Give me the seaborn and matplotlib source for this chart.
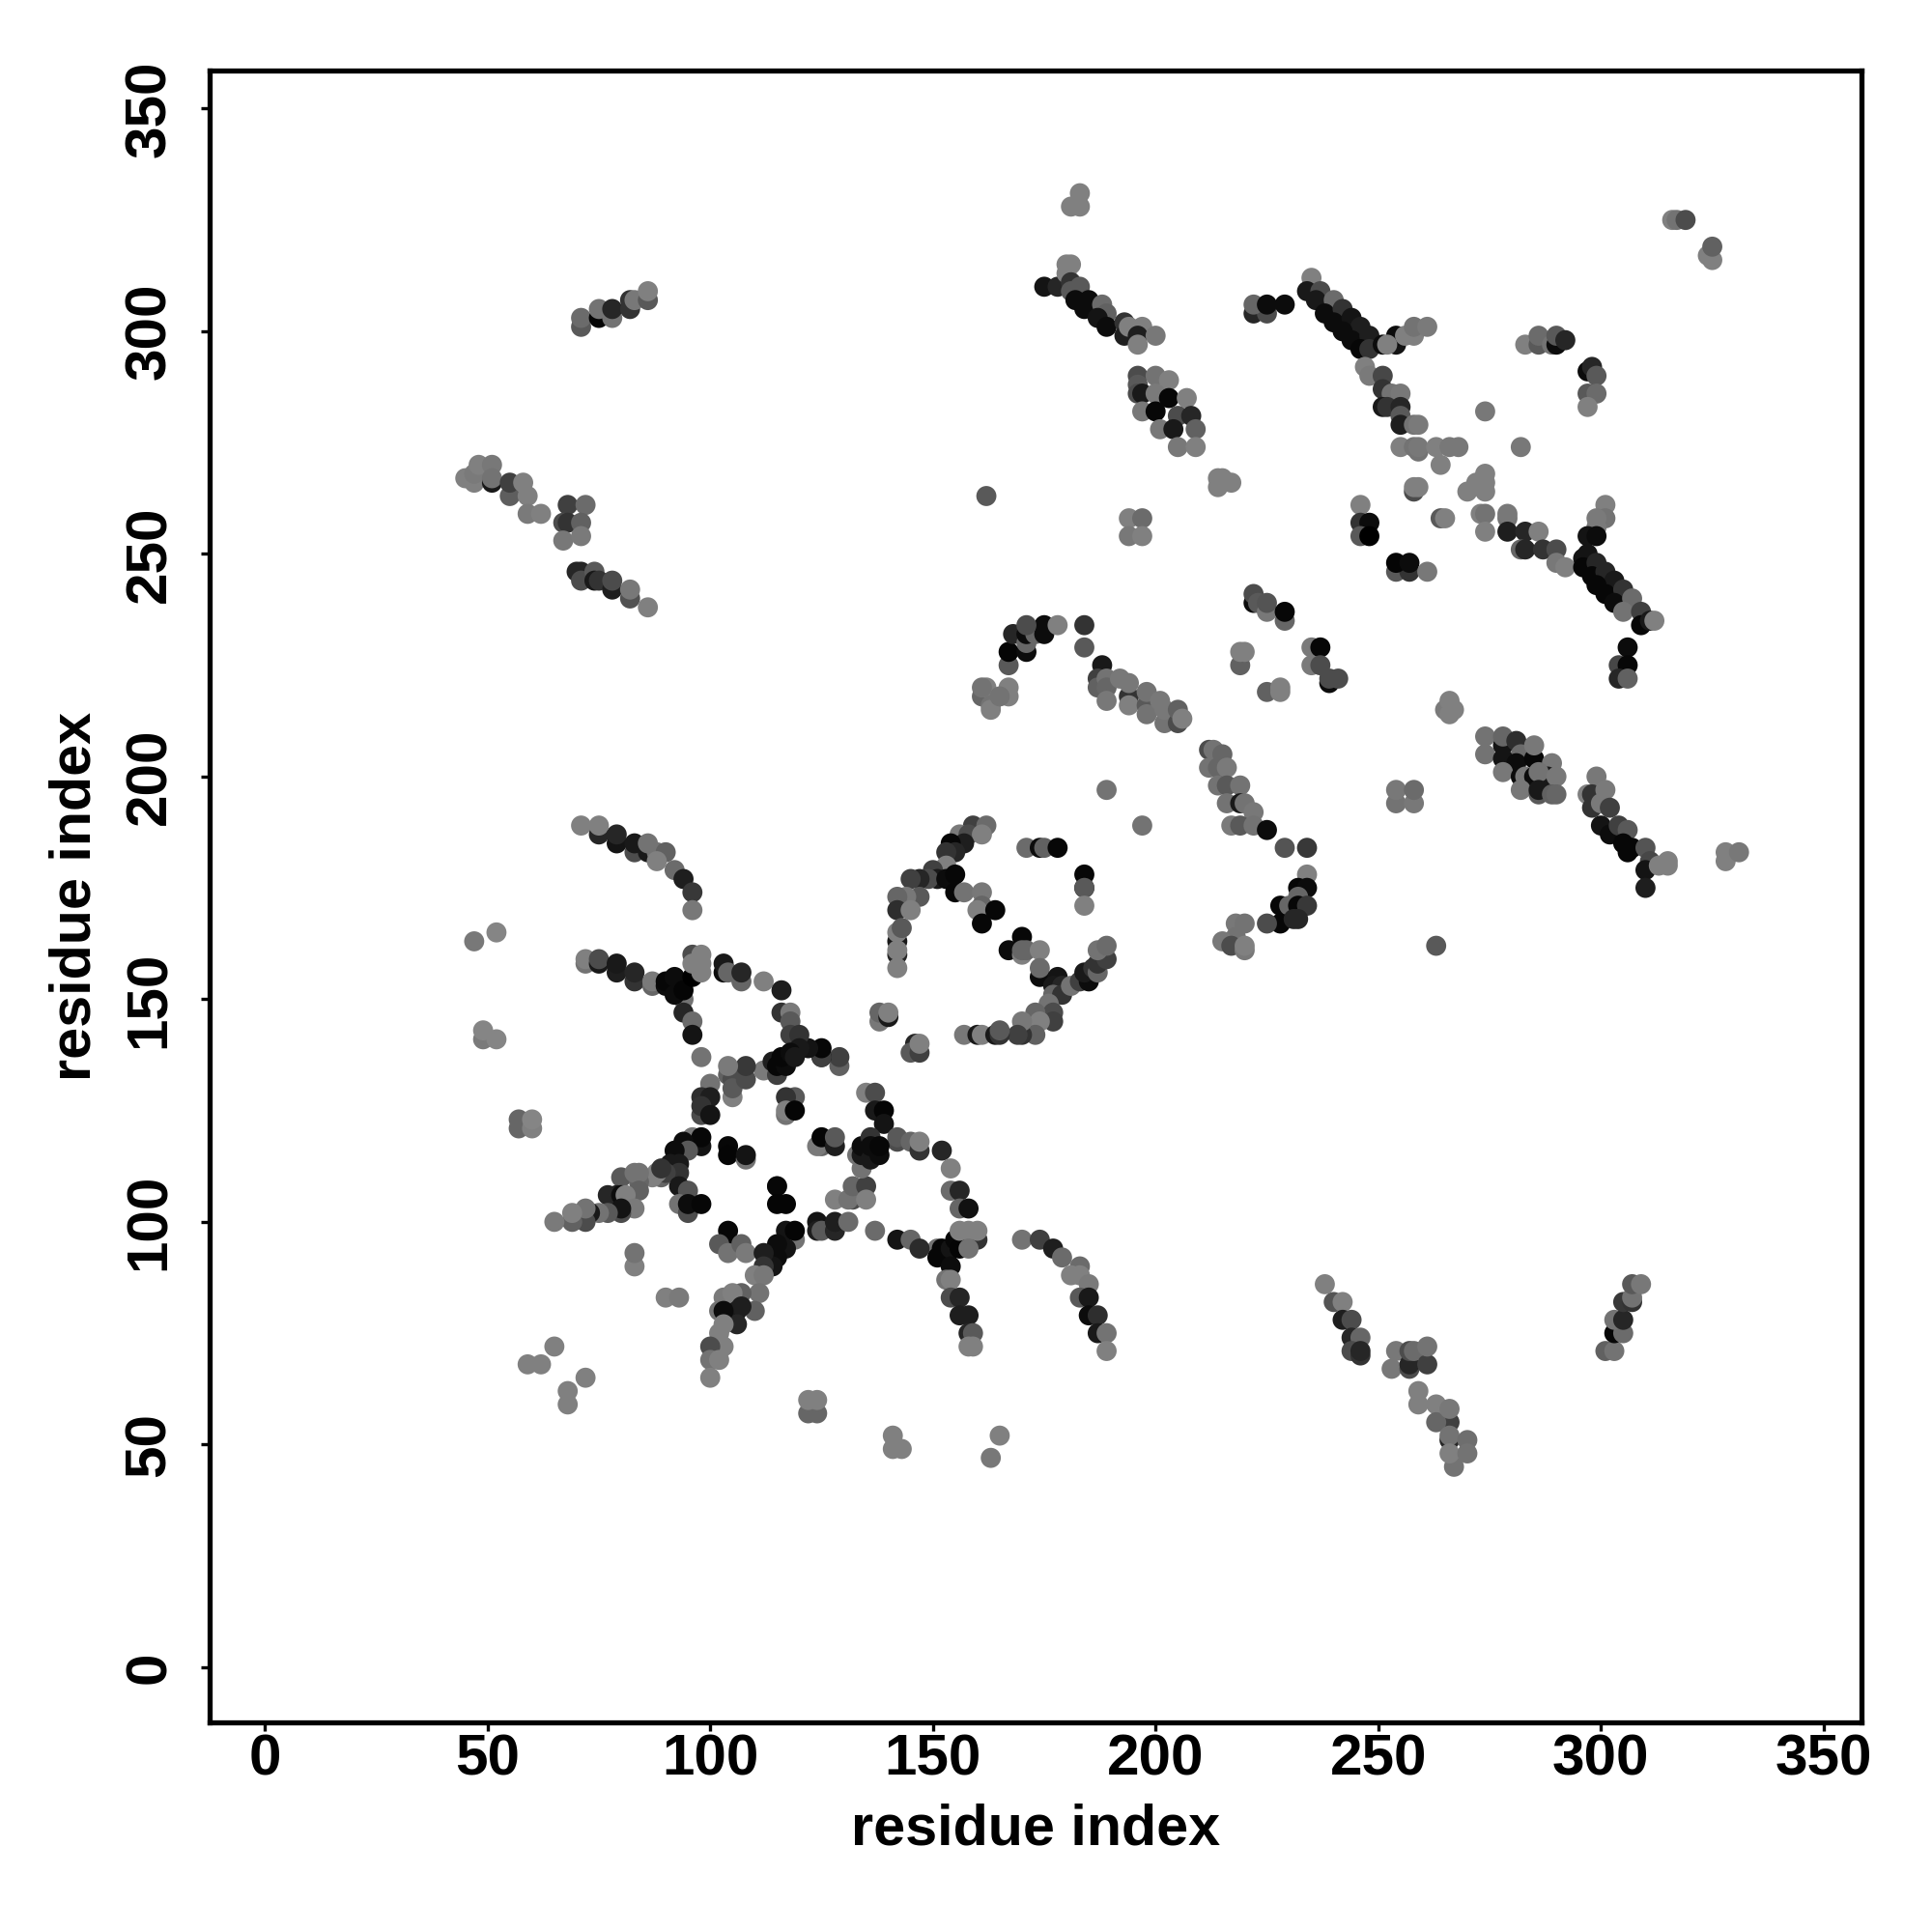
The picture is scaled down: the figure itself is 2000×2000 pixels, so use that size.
import numpy as np
import pandas as pd
import seaborn as sns
from matplotlib import pyplot as plt

# contact points, group by group (x, y, grey level)
arc1_x = [71, 75, 75, 79, 79, 83, 83, 86, 86, 88, 90, 88, 92, 94, 96, 96]
arc1_y = [189, 187, 189, 185, 187, 183, 185, 183, 185, 183, 183, 181, 179, 177, 174, 170]
arc1_g = [.5, .15, .5, .08, .15, .3, .1, .1, .45, .45, .38, .5, .42, .12, .22, .47]

arc2_x = [72, 72, 75, 75, 79, 79, 83, 83, 87, 87, 94, 90, 90, 92, 92, 94, 96, 96, 98, 98, 98, 96, 94, 96, 96, 98]
arc2_y = [158, 159, 158, 159, 156, 158, 154, 156, 153, 154, 150, 153, 154, 151, 155, 152, 155, 160, 156, 158, 160, 158, 147, 145, 142, 137]
arc2_g = [.45, .5, .1, .3, .12, .1, .2, .15, .4, .48, .45, .05, .03, .05, .05, .02, .0, .3, .5, .5, .5, .5, .15, .42, .08, .45]

arc3_x = [103, 103, 104, 107, 107, 112, 116, 116, 118, 118, 129, 129, 125, 125, 125, 122, 118, 120, 120, 112, 115, 114, 115, 117, 116, 118, 119]
arc3_y = [156, 158, 156, 154, 156, 154, 152, 147, 147, 145, 135, 137, 137, 137, 139, 139, 142, 142, 139, 134, 133, 136, 135, 135, 137, 138, 137]
arc3_g = [.05, .1, .4, .4, .15, .5, .12, .2, .48, .35, .38, .25, .05, .25, .03, .08, .25, .2, .1, .48, .25, .12, .03, .05, .03, .05, .1]

block1_x = [105, 104, 105, 105, 108, 108, 104, 100, 98, 100, 98, 98, 100]
block1_y = [128, 133, 132, 130, 132, 135, 135, 131, 128, 128, 124, 126, 124]
block1_g = [.5, .38, .3, .35, .3, .22, .48, .45, .18, .12, .3, .2, .08]

lone1_x = [47, 52, 49, 49, 52, 57, 57, 60, 60, 59, 62, 65, 68, 68, 72, 83, 83, 90, 93]
lone1_y = [163, 165, 141, 143, 141, 121, 123, 121, 123, 68, 68, 72, 59, 62, 65, 90, 93, 83, 83]
lone1_g = [.47, .52, .48, .52, .52, .4, .4, .5, .52, .5, .5, .5, .5, .5, .5, .5, .45, .5, .48]

mid1_x = [117, 119, 117, 117, 119, 135, 137, 137, 139, 139]
mid1_y = [124, 128, 128, 125, 125, 129, 129, 125, 125, 122]
mid1_g = [.45, .35, .2, .5, .02, .5, .3, .1, .02, .08]

arc4_x = [142, 142, 145, 147, 147, 152, 154, 154, 156, 156, 158]
arc4_y = [118, 119, 118, 116, 118, 116, 112, 107, 107, 103, 103]
arc4_g = [.3, .35, .4, .2, .5, .15, .5, .42, .15, .4, .07]

knot1_x = [151, 152, 151, 153, 154, 154, 155, 156, 160, 156, 158, 160, 158, 153, 154, 154, 156, 156, 158, 158, 159, 158, 159]
knot1_y = [94, 94, 92, 92, 94, 90, 96, 94, 96, 98, 98, 98, 94, 87, 87, 83, 83, 79, 79, 75, 75, 72, 72]
knot1_g = [.45, .03, .03, .03, .08, .05, .03, .02, .2, .5, .5, .5, .45, .45, .5, .3, .15, .12, .12, .15, .35, .5, .5]

arc5_x = [142, 145, 147, 137, 170, 174, 177, 179, 183, 181, 183, 185, 183, 185, 185, 187, 187, 189, 189]
arc5_y = [96, 96, 94, 98, 96, 96, 94, 92, 90, 88, 88, 86, 83, 83, 79, 79, 75, 75, 71]
arc5_g = [.08, .4, .17, .42, .45, .25, .12, .42, .42, .5, .5, .48, .35, .1, .05, .18, .1, .45, .5]

mid2_x = [124, 124, 125, 128, 128, 131, 128, 132, 131, 132, 135, 135, 134, 125, 124, 125, 128, 128]
mid2_y = [100, 98, 98, 98, 100, 100, 105, 105, 105, 108, 108, 105, 112, 117, 117, 119, 117, 119]
mid2_g = [.08, .12, .35, .15, .12, .42, .5, .3, .45, .4, .25, .5, .45, .4, .48, .02, .12, .35]

diag1_x = [133, 134, 134, 136, 136, 136, 138, 138]
diag1_y = [115, 115, 117, 119, 114, 117, 115, 117]
diag1_g = [.45, .1, .05, .2, .1, .05, .05, .03]

pair1_x = [115, 115, 115, 117, 104, 104, 108, 108]
pair1_y = [108, 108, 104, 104, 117, 115, 114, 115]
pair1_g = [.45, .03, .02, .02, .03, .02, .45, .08]

diag2_x = [96, 98, 98, 94, 95, 92, 93, 91, 89, 93, 90, 88, 87, 89]
diag2_y = [119, 117, 119, 118, 116, 116, 113, 113, 110, 111, 111, 111, 110, 112]
diag2_g = [.48, .08, .03, .05, .35, .05, .1, .1, .4, .2, .25, .5, .5, .2]

tail1_x = [80, 84, 83, 84, 84, 79, 77, 80, 81, 83, 80, 80, 77, 75, 73, 72, 72, 69, 69, 65]
tail1_y = [110, 109, 111, 111, 107, 106, 106, 106, 106, 103, 102, 103, 102, 102, 102, 100, 103, 100, 102, 100]
tail1_g = [.35, .4, .45, .45, .38, .12, .15, .05, .5, .48, .3, .08, .35, .45, .1, .3, .45, .38, .5, .48]

side1_x = [93, 95, 93, 95, 95, 98]
side1_y = [108, 107, 104, 102, 104, 104]
side1_g = [.1, .33, .45, .3, .05, .03]

diag3_x = [104, 104, 102, 104, 107, 108, 119, 117, 119, 117, 115, 115, 113, 114, 112, 112, 110, 112]
diag3_y = [98, 95, 95, 93, 95, 93, 96, 98, 98, 94, 95, 92, 92, 90, 93, 90, 88, 88]
diag3_g = [.03, .03, .35, .45, .38, .48, .45, .08, .02, .08, .05, .05, .05, .08, .12, .2, .5, .47]

low1_x = [111, 110, 107, 103, 105, 106, 107, 106, 102, 103, 103, 102, 103, 100, 100, 102, 100]
low1_y = [84, 80, 84, 83, 84, 80, 81, 77, 80, 80, 77, 75, 72, 72, 69, 69, 65]
low1_g = [.45, .38, .38, .48, .5, .1, .12, .15, .45, .05, .5, .5, .5, .3, .45, .5, .5]

lone2_x = [122, 124, 122, 124, 141, 141, 143, 165, 163, 162, 263]
lone2_y = [57, 57, 60, 60, 52, 49, 49, 52, 47, 263, 162]
lone2_g = [.4, .4, .5, .5, .5, .5, .5, .5, .47, .35, .35]

ring1_x = [159, 156, 158, 162, 161, 157, 154, 155, 153, 153, 150, 151, 149, 147, 145, 153, 155, 155, 157, 147, 144, 142, 142, 145]
ring1_y = [189, 187, 187, 189, 187, 185, 185, 183, 183, 180, 179, 177, 177, 177, 177, 177, 178, 174, 174, 173, 173, 173, 170, 170]
ring1_g = [.25, .48, .3, .42, .5, .12, .03, .15, .2, .5, .25, .1, .3, .15, .25, .05, .03, .03, .45, .35, .47, .4, .18, .5]

ring2_x = [142, 142, 143, 142, 142, 142, 138, 138, 140, 140, 146, 145, 147, 147]
ring2_y = [163, 165, 166, 160, 161, 157, 145, 147, 146, 147, 140, 138, 138, 140]
ring2_g = [.1, .5, .35, .15, .5, .5, .47, .4, .1, .5, .15, .35, .25, .5]

ring3_x = [171, 174, 175, 178, 184, 184, 184, 184, 161, 161, 160, 164, 161]
ring3_y = [184, 184, 184, 184, 178, 175, 175, 171, 174, 171, 170, 170, 167]
ring3_g = [.42, .05, .38, .03, .03, .05, .35, .5, .47, .4, .5, .03, .03]

ring4_x = [170, 167, 170, 170, 171, 174, 174, 174, 178, 177, 179, 177, 179, 176, 177, 177, 173, 174, 173, 170, 170, 169]
ring4_y = [164, 161, 160, 161, 161, 161, 155, 157, 155, 153, 153, 151, 151, 149, 147, 145, 147, 145, 142, 142, 145, 142]
ring4_g = [.03, .05, .5, .4, .4, .5, .05, .42, .08, .1, .15, .4, .2, .45, .3, .25, .4, .5, .38, .2, .47, .25]

ring5_x = [157, 160, 161, 164, 165, 165, 181, 183, 185, 184, 186, 187, 187, 189, 188, 187, 189]
ring5_y = [142, 142, 142, 142, 142, 143, 153, 154, 154, 156, 157, 156, 158, 159, 161, 161, 162]
ring5_g = [.47, .1, .5, .1, .2, .35, .45, .25, .05, .1, .2, .4, .2, .25, .25, .45, .42]

top1_x = [183, 181, 183, 175, 178, 180, 180, 181, 181, 181, 183, 182, 185, 184, 188, 189, 187, 189, 193, 193, 194, 197, 196, 196, 200]
top1_y = [331, 328, 328, 310, 310, 315, 313, 315, 311, 309, 310, 307, 307, 305, 306, 304, 303, 301, 302, 299, 301, 301, 299, 297, 299]
top1_g = [.5, .5, .5, .08, .15, .5, .5, .5, .2, .35, .35, .05, .05, .05, .42, .38, .08, .05, .2, .12, .5, .5, .12, .5, .47]

block2_x = [196, 196, 200, 203, 196, 197, 200, 203, 207, 197, 200, 205, 208, 201, 204, 209, 205, 209]
block2_y = [290, 288, 290, 289, 286, 286, 286, 285, 285, 282, 282, 281, 281, 278, 278, 278, 274, 274]
block2_g = [.3, .35, .45, .5, .3, .1, .48, .03, .5, .47, .03, .3, .15, .47, .1, .38, .47, .5]

patch1_x = [214, 215, 214, 217, 194, 197, 194, 197, 222, 225, 222, 225, 229]
patch1_y = [267, 267, 265, 266, 258, 258, 254, 254, 304, 304, 306, 306, 306]
patch1_g = [.5, .5, .5, .5, .5, .42, .47, .5, .15, .3, .4, .05, .05]

top2_x = [235, 234, 237, 236, 240, 238, 242, 240, 244, 246, 242, 244, 248, 246, 248, 251, 254, 254, 252]
top2_y = [312, 309, 309, 307, 307, 304, 305, 302, 303, 301, 300, 298, 299, 296, 296, 297, 297, 299, 297]
top2_g = [.5, .1, .3, .1, .42, .05, .2, .05, .08, .12, .05, .05, .12, .03, .2, .05, .08, .05, .5]

top3_x = [258, 256, 258, 261, 247, 248, 251, 251, 253, 255, 251, 252, 255, 255, 255, 258, 259]
top3_y = [299, 299, 301, 301, 292, 290, 290, 287, 286, 286, 283, 283, 283, 281, 279, 279, 279]
top3_g = [.5, .5, .45, .48, .5, .48, .28, .2, .45, .47, .1, .2, .15, .35, .12, .45, .48]

cross1_x = [255, 258, 259, 259, 263, 266, 268, 264, 274, 258, 258, 259, 246, 246, 248, 246, 248]
cross1_y = [274, 274, 273, 274, 274, 274, 274, 270, 282, 264, 265, 265, 261, 257, 257, 254, 254]
cross1_g = [.5, .45, .45, .47, .5, .47, .47, .5, .47, .3, .5, .5, .5, .2, .05, .35, .0]

cross2_x = [254, 257, 254, 257, 261, 264, 265, 272, 274, 274, 270, 274, 273, 274, 274]
cross2_y = [246, 246, 248, 248, 246, 258, 258, 266, 268, 266, 264, 264, 259, 259, 255]
cross2_g = [.35, .2, .02, .05, .47, .35, .5, .5, .5, .5, .5, .5, .5, .45, .5]

tail2_x = [279, 279, 279, 283, 282, 283, 286, 287, 290, 290, 292, 282]
tail2_y = [258, 259, 255, 255, 251, 251, 255, 251, 251, 248, 247, 274]
tail2_g = [.45, .47, .12, .15, .4, .15, .5, .2, .3, .47, .5, .47]

top4_x = [283, 286, 286, 289, 290, 290, 292, 297, 298, 299, 297, 299, 297]
top4_y = [297, 297, 299, 297, 297, 299, 298, 291, 292, 290, 286, 286, 283]
top4_g = [.5, .35, .42, .45, .05, .35, .15, .05, .15, .35, .35, .42, .5]

diag4_x = [301, 301, 299, 299, 297, 299, 297, 296, 296, 299, 298, 301, 303, 299, 301, 305, 303, 307, 305, 309, 309, 311, 312]
diag4_y = [261, 258, 258, 256, 254, 254, 250, 249, 247, 248, 245, 246, 244, 243, 241, 242, 239, 240, 237, 237, 234, 235, 235]
diag4_g = [.5, .45, .48, .48, .08, .05, .08, .08, .03, .15, .03, .15, .1, .03, .03, .2, .05, .42, .45, .25, .03, .1, .5]

stub1_x = [306, 304, 306, 304, 306, 325, 324, 325, 316, 317, 319]
stub1_y = [229, 225, 225, 222, 222, 316, 317, 319, 325, 325, 325]
stub1_g = [.05, .28, .03, .15, .38, .5, .5, .38, .5, .45, .3]

arc6_x = [167, 167, 168, 171, 171, 171, 173, 175, 175, 171, 178, 184, 184, 161, 162, 161, 163, 163, 167, 167, 165]
arc6_y = [225, 228, 232, 228, 230, 232, 232, 232, 234, 234, 234, 234, 229, 218, 220, 220, 216, 215, 220, 218, 218]
arc6_g = [.35, .02, .15, .05, .4, .05, .4, .05, .05, .3, .5, .2, .35, .4, .5, .45, .45, .5, .5, .5, .45]

band1_x = [188, 187, 187, 189, 189, 189, 192, 194, 194, 194, 198, 198, 198, 201, 202, 202, 205, 205, 206]
band1_y = [225, 222, 220, 222, 220, 217, 222, 218, 216, 221, 216, 214, 219, 217, 212, 215, 212, 215, 213]
band1_g = [.1, .25, .38, .45, .4, .47, .47, .2, .5, .47, .35, .45, .45, .47, .45, .47, .3, .38, .5]

band2_x = [212, 213, 215, 212, 214, 216, 214, 216, 219, 216, 219, 220, 222, 217, 219, 222, 225]
band2_y = [206, 206, 205, 202, 202, 202, 198, 198, 198, 194, 194, 194, 192, 189, 189, 189, 188]
band2_g = [.3, .45, .4, .45, .4, .48, .45, .35, .45, .45, .1, .45, .47, .48, .35, .45, .05]

hook1_x = [229, 234, 234, 232, 234, 232, 228, 230, 232, 234, 228, 225, 231, 232]
hook1_y = [184, 184, 178, 175, 175, 173, 171, 171, 171, 171, 167, 167, 168, 168]
hook1_g = [.33, .22, .5, .03, .05, .4, .03, .4, .03, .22, .03, .3, .15, .15]

hook2_x = [218, 220, 218, 215, 217, 220, 220]
hook2_y = [167, 167, 164, 163, 162, 161, 162]
hook2_g = [.47, .45, .45, .47, .3, .47, .5]

quad1_x = [254, 258, 254, 258, 265, 267, 266, 266, 189, 197, 274, 274]
quad1_y = [194, 194, 197, 197, 215, 215, 214, 217, 197, 189, 209, 205]
quad1_g = [.45, .47, .47, .42, .48, .5, .5, .5, .45, .45, .45, .45]

mid3_x = [222, 222, 223, 225, 225, 229, 229, 219, 220, 219, 235, 237, 235, 237, 239, 239, 241, 225, 228, 228]
mid3_y = [239, 241, 239, 237, 239, 235, 237, 225, 228, 228, 229, 229, 225, 225, 221, 222, 222, 219, 219, 220]
mid3_g = [.05, .3, .35, .47, .33, .4, .03, .38, .5, .5, .48, .03, .48, .3, .05, .3, .3, .38, .5, .5]

band3_x = [278, 278, 281, 282, 278, 281, 285, 285, 289, 278, 282, 283, 285, 288, 286, 290, 282, 286, 286, 289, 290]
band3_y = [207, 209, 208, 205, 204, 203, 204, 207, 203, 201, 200, 200, 200, 200, 201, 200, 197, 196, 197, 196, 196]
band3_g = [.08, .4, .18, .42, .08, .05, .03, .47, .47, .47, .05, .47, .05, .1, .45, .47, .47, .35, .1, .38, .4]

diag5_x = [299, 297, 298, 301, 298, 300, 302, 300, 302, 304, 306, 305, 307, 306, 310, 311, 310, 310, 313, 315, 315, 328, 328, 331]
diag5_y = [200, 196, 196, 197, 193, 194, 193, 189, 187, 189, 188, 185, 184, 183, 184, 181, 179, 175, 180, 180, 181, 181, 183, 183]
diag5_g = [.47, .5, .2, .48, .2, .48, .25, .08, .05, .25, .35, .03, .03, .03, .33, .28, .08, .12, .5, .5, .5, .5, .5, .47]

low2_x = [238, 240, 242, 242, 244, 244, 246, 244, 246, 246]
low2_y = [86, 82, 82, 78, 78, 74, 74, 71, 70, 71]
low2_g = [.5, .33, .5, .12, .3, .15, .4, .3, .2, .15]

low3_x = [253, 254, 257, 257, 257, 258, 261, 261]
low3_y = [67, 71, 67, 68, 71, 71, 68, 72]
low3_g = [.47, .47, .3, .15, .3, .42, .25, .45]

low4_x = [259, 259, 263, 266, 263, 266, 266, 266, 270, 267, 266, 270]
low4_y = [62, 59, 59, 55, 55, 58, 51, 52, 51, 45, 48, 48]
low4_g = [.5, .5, .5, .25, .4, .47, .15, .45, .43, .45, .5, .45]

low5_x = [301, 303, 303, 305, 303, 305, 305, 307, 307, 307, 309]
low5_y = [71, 71, 75, 75, 78, 78, 82, 82, 83, 86, 86]
low5_g = [.38, .45, .03, .42, .45, .15, .22, .2, .45, .35, .47]

left1_x = [71, 71, 75, 75, 78, 78, 82, 82, 83, 86, 86]
left1_y = [301, 303, 303, 305, 303, 305, 305, 307, 307, 307, 309]
left1_g = [.35, .42, .02, .45, .45, .15, .2, .2, .47, .35, .5]

left2_x = [45, 47, 47, 48, 51, 51, 51, 55, 55, 58, 59, 59, 62]
left2_y = [267, 266, 268, 270, 270, 266, 267, 263, 266, 266, 263, 259, 259]
left2_g = [.5, .5, .48, .5, .47, .1, .45, .37, .25, .5, .5, .48, .5]

left3_x = [68, 72, 67, 68, 71, 67, 71, 70, 71, 71, 74, 74, 75, 78, 78, 82, 82, 86]
left3_y = [261, 261, 257, 257, 257, 253, 254, 246, 246, 244, 246, 244, 244, 242, 244, 240, 242, 238]
left3_g = [.25, .42, .3, .2, .38, .47, .48, .15, .15, .3, .35, .1, .2, .12, .3, .32, .47, .5]

x_ticks = [0, 50, 100, 150, 200, 250, 300, 350]
y_ticks = [0, 50, 100, 150, 200, 250, 300, 350]

groups = [
    (arc1_x, arc1_y, arc1_g), (arc2_x, arc2_y, arc2_g), (arc3_x, arc3_y, arc3_g),
    (block1_x, block1_y, block1_g), (lone1_x, lone1_y, lone1_g), (mid1_x, mid1_y, mid1_g),
    (arc4_x, arc4_y, arc4_g), (knot1_x, knot1_y, knot1_g), (arc5_x, arc5_y, arc5_g),
    (mid2_x, mid2_y, mid2_g), (diag1_x, diag1_y, diag1_g), (pair1_x, pair1_y, pair1_g),
    (diag2_x, diag2_y, diag2_g), (tail1_x, tail1_y, tail1_g), (side1_x, side1_y, side1_g),
    (diag3_x, diag3_y, diag3_g), (low1_x, low1_y, low1_g), (lone2_x, lone2_y, lone2_g),
    (ring1_x, ring1_y, ring1_g), (ring2_x, ring2_y, ring2_g), (ring3_x, ring3_y, ring3_g),
    (ring4_x, ring4_y, ring4_g), (ring5_x, ring5_y, ring5_g), (top1_x, top1_y, top1_g),
    (block2_x, block2_y, block2_g), (patch1_x, patch1_y, patch1_g), (top2_x, top2_y, top2_g),
    (top3_x, top3_y, top3_g), (cross1_x, cross1_y, cross1_g), (cross2_x, cross2_y, cross2_g),
    (tail2_x, tail2_y, tail2_g), (top4_x, top4_y, top4_g), (diag4_x, diag4_y, diag4_g),
    (stub1_x, stub1_y, stub1_g), (arc6_x, arc6_y, arc6_g), (band1_x, band1_y, band1_g),
    (band2_x, band2_y, band2_g), (hook1_x, hook1_y, hook1_g), (hook2_x, hook2_y, hook2_g),
    (quad1_x, quad1_y, quad1_g), (mid3_x, mid3_y, mid3_g), (band3_x, band3_y, band3_g),
    (diag5_x, diag5_y, diag5_g), (low2_x, low2_y, low2_g), (low3_x, low3_y, low3_g),
    (low4_x, low4_y, low4_g), (low5_x, low5_y, low5_g), (left1_x, left1_y, left1_g),
    (left2_x, left2_y, left2_g), (left3_x, left3_y, left3_g),
]

df = pd.concat([pd.DataFrame({'x': a, 'y': b, 'g': c}) for a, b, c in groups], ignore_index=True)

sns.set_style('white')
plt.rcParams['font.family'] = ['Liberation Sans', 'DejaVu Sans']
plt.rcParams['font.weight'] = 'bold'
plt.rcParams['text.color'] = 'black'
plt.rcParams['axes.labelcolor'] = 'black'
plt.rcParams['xtick.color'] = 'black'
plt.rcParams['ytick.color'] = 'black'

fig = plt.figure(figsize=(10, 10), dpi=200)
ax = fig.add_axes([0.1084, 0.1085, 0.8551, 0.8551])

sns.scatterplot(data=df, x='x', y='y', hue='g', palette='gray', hue_norm=(0, 1),
                s=56, linewidth=0, legend=False, ax=ax)

ax.set_xlim(-12.45, 358.5)
ax.set_ylim(-12.4, 358.6)
ax.set_xticks(x_ticks)
ax.set_yticks(y_ticks)
ax.tick_params(axis='both', length=3.2, width=1.2, labelsize=21.7, bottom=True, left=True)
ax.tick_params(axis='x', pad=1)
ax.tick_params(axis='y', pad=9)
plt.setp(ax.get_yticklabels(), rotation=90, va='center')
ax.set_xlabel('residue index', fontsize=21.4, fontweight='bold', labelpad=6)
ax.set_ylabel('residue index', fontsize=21.4, fontweight='bold', labelpad=8)
for s in ax.spines.values():
    s.set_visible(True)
    s.set_color('black')
    s.set_linewidth(1.9)

fig.savefig('out.png', dpi=200)
